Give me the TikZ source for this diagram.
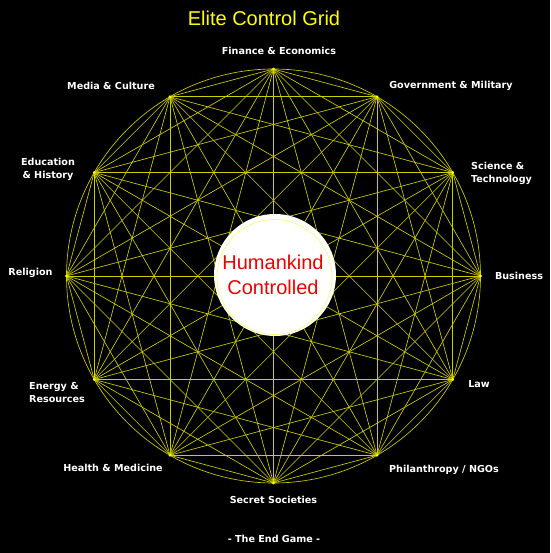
\documentclass[tikz,border=0pt]{standalone}
\usepackage{fontspec}
\setmainfont{Liberation Sans}
\newfontfamily\lblfont{DejaVu Sans}
\usetikzlibrary{calc}
\definecolor{gridyellow}{RGB}{205,205,0}
\definecolor{titleyellow}{RGB}{255,255,0}
\definecolor{ringyellow}{RGB}{250,250,110}
\definecolor{redtext}{RGB}{240,0,0}
\tikzset{
  gridline/.style={draw=gridyellow, line width=0.65pt},
  vertex/.style={circle, fill=titleyellow, inner sep=0pt, minimum size=2.5pt},
  lbl/.style={text=white, font=\lblfont\bfseries\fontsize{9.6}{12.5}\selectfont, inner sep=0pt, align=center},
  lbll/.style={lbl, align=left, anchor=west},
}
\begin{document}
\begin{tikzpicture}[x=1pt,y=-1pt]
\fill[black] (0,0) rectangle (550,553);
\useasboundingbox (0,0) rectangle (550,553);
\coordinate (c) at (273.5,276);
\draw[gridline] (c) circle[radius=207];
\foreach \k in {0,...,11}{
  \node[vertex] (v\k) at ({273.5+207*cos(90-30*\k)},{276-207*sin(90-30*\k)}) {};
}
\foreach \i in {0,...,11}{
  \foreach \j in {0,...,11}{
    \ifnum\i<\j \draw[gridline] (v\i.center) -- (v\j.center); \fi
  }
}
\foreach \k in {0,...,11}{ \fill[titleyellow] (v\k.center) circle[radius=1.3]; }
% centre
\node[circle, fill=white, minimum size=122pt, inner sep=0pt] (hub) at (275,275) {};
\draw[ringyellow, line width=0.6pt] (274.5,277) circle[radius=57.5];
\node[text=redtext, font=\fontsize{20}{25}\selectfont, align=center, inner sep=0pt] (hubtext) at (273,275) {Humankind\\Controlled};
% title
\node[text=titleyellow, font=\fontsize{20}{24}\selectfont, inner sep=0pt] (title) at (264,18) {Elite Control Grid};
% labels
\node[lbl] (l0) at (279,51) {Finance \& Economics};
\node[lbl] (l1) at (451,86) {Government \& Military};
\node[lbll] (l2) at (471,173.5) {Science \&\\Technology};
\node[lbl] (l3) at (519,276) {Business};
\node[lbl] (l4) at (479,384) {Law};
\node[lbl] (l5) at (444,470) {Philanthropy / NGOs};
\node[lbl] (l6) at (273.5,500) {Secret Societies};
\node[lbl] (l7) at (113,468) {Health \& Medicine};
\node[lbll] (l8) at (29,392.5) {Energy \&\\Resources};
\node[lbl] (l9) at (30.5,273) {Religion};
\node[lbl] (l10) at (48,169.5) {Education\\\& History};
\node[lbl] (l11) at (111,86) {Media \& Culture};
\node[lbl] (end) at (274,539) {- The End Game -};
\end{tikzpicture}
\end{document}
